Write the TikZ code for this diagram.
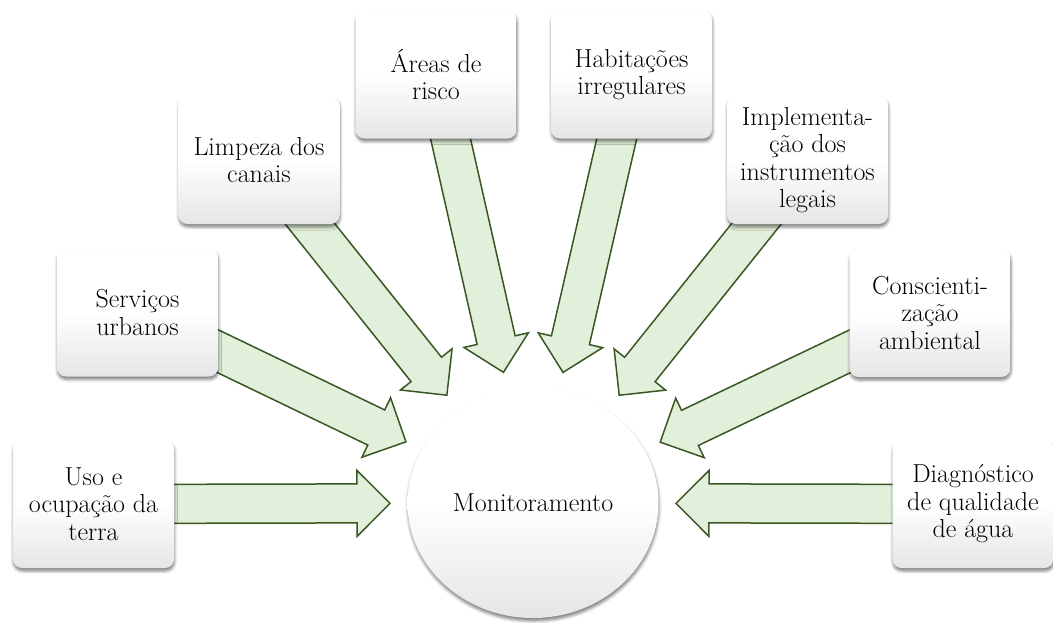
\documentclass[tikz,border=0pt]{standalone}
\usepackage{fontspec}
\usetikzlibrary{calc,shapes.geometric,shadows.blur,backgrounds}
\definecolor{arrfill}{RGB}{226,239,218}
\definecolor{arrline}{RGB}{56,87,35}
\tikzset{
  txt/.style={align=center, font=\fontsize{26}{27.5}\selectfont, text=black},
  box/.style={txt, rounded corners=9pt, minimum width=161pt, minimum height=128pt,
    inner sep=2pt, top color=white, bottom color=black!10, middle color=white,
    blur shadow={shadow xshift=0.5pt, shadow yshift=-3pt, shadow blur radius=3pt, shadow opacity=50}},
  hub/.style={txt, ellipse, minimum width=251pt, minimum height=230pt, inner sep=0pt,
    top color=white, bottom color=black!10, middle color=white,
    blur shadow={shadow xshift=0.5pt, shadow yshift=-3pt, shadow blur radius=3pt, shadow opacity=50}},
  barrow/.style={fill=arrfill, draw=arrline, line width=1.5pt, line join=miter}
}
% #1 source node, #2 target node, #3 distance of tip from target centre, #4 name prefix
\newcommand\blockarr[4]{%
  \coordinate (#4t) at ($(#2.center)!#3!(#1.center)$);
  \coordinate (#4b) at ($(#4t)!33pt!(#1.center)$);
  \draw[barrow] ($(#1.center)!19.5pt!90:(#4t)$) -- ($(#4b)!19.5pt!-90:(#1.center)$)
    -- ($(#4b)!33pt!-90:(#1.center)$) -- (#4t) -- ($(#4b)!33pt!90:(#1.center)$)
    -- ($(#4b)!19.5pt!90:(#1.center)$) -- ($(#1.center)!19.5pt!-90:(#4t)$) -- cycle;}
\begin{document}
\begin{tikzpicture}[x=1pt,y=-1pt]
\useasboundingbox (0,0) rectangle (1053,622);
\node[hub] (c) at (533,503) {Monitoramento};
\node[box] (b1) at (93.5,504) {Uso e\\ocupação da\\terra};
\node[box] (b2) at (137.5,312.5) {Serviços\\urbanos};
\node[box] (b3) at (259,160) {Limpeza dos\\canais};
\node[box] (b4) at (436,74.5) {Áreas de\\risco};
\node[box] (b5) at (631.5,74.5) {Habitações\\irregulares};
\node[box] (b6) at (807.5,160) {Implementa-\\ção dos\\instrumentos\\legais};
\node[box] (b7) at (930,313) {Conscienti-\\zação\\ambiental};
\node[box] (b8) at (973,504) {Diagnóstico\\de qualidade\\de água};
\begin{scope}[on background layer]
\blockarr{b1}{c}{143pt}{a1}
\blockarr{b2}{c}{141pt}{a2}
\blockarr{b3}{c}{138pt}{a3}
\blockarr{b4}{c}{134pt}{a4}
\blockarr{b5}{c}{134pt}{a5}
\blockarr{b6}{c}{138pt}{a6}
\blockarr{b7}{c}{141pt}{a7}
\blockarr{b8}{c}{143pt}{a8}
\end{scope}
\end{tikzpicture}
\end{document}
